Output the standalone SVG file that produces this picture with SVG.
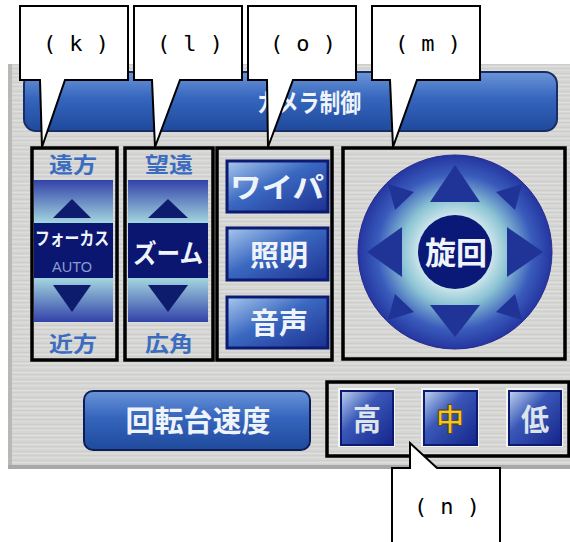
<svg xmlns="http://www.w3.org/2000/svg" width="570" height="542" viewBox="0 0 570 542">
<defs>
<pattern id="metal" width="570" height="9" patternUnits="userSpaceOnUse">
<rect width="570" height="9" fill="#d6d6d4"/>
<rect y="1" width="570" height="1" fill="#cdcdcb"/>
<rect y="3" width="570" height="1" fill="#dfdfdd"/>
<rect y="5" width="570" height="1" fill="#cfcfcd"/>
<rect y="7" width="570" height="1" fill="#dcdcda"/>
</pattern>
<linearGradient id="title" x1="0" y1="0" x2="0" y2="1">
<stop offset="0" stop-color="#6b95d8"/>
<stop offset="0.45" stop-color="#3565bd"/>
<stop offset="1" stop-color="#1f4a9c"/>
</linearGradient>
<linearGradient id="btn" x1="0" y1="0" x2="1" y2="1">
<stop offset="0" stop-color="#a8c8ee"/>
<stop offset="0.45" stop-color="#3a68c0"/>
<stop offset="1" stop-color="#1c3090"/>
</linearGradient>
<linearGradient id="sq" x1="0" y1="0" x2="1" y2="1">
<stop offset="0" stop-color="#c0d4f0"/>
<stop offset="0.4" stop-color="#3a58b8"/>
<stop offset="1" stop-color="#14248a"/>
</linearGradient>
<linearGradient id="upper" x1="0" y1="0" x2="0" y2="1">
<stop offset="0" stop-color="#3242a8"/>
<stop offset="1" stop-color="#a4d6e0"/>
</linearGradient>
<linearGradient id="lower" x1="0" y1="0" x2="0" y2="1">
<stop offset="0" stop-color="#a4d6e0"/>
<stop offset="1" stop-color="#3242a8"/>
</linearGradient>
<radialGradient id="sphere" cx="0.5" cy="0.5" r="0.5">
<stop offset="0.3" stop-color="#e8f4f4"/>
<stop offset="0.55" stop-color="#8cc4d4"/>
<stop offset="0.8" stop-color="#3a5cbc"/>
<stop offset="1" stop-color="#2436a0"/>
</radialGradient>
<style>
.frame{fill:none;stroke:#000;stroke-width:3.5}
.callout{fill:#fff;stroke:#000;stroke-width:2}
.ctext{font-family:"DejaVu Sans Mono",monospace;font-size:22px;fill:#000;text-anchor:middle}
.jp{font-family:"Noto Sans CJK JP",sans-serif;font-weight:bold;text-anchor:middle}
.lbl{font-size:21px;fill:#3b6cc0}
.wt{fill:#eef4fa}
.tri{fill:#0e1c6e}
.stri{fill:#1f3496}
.btnr{fill:url(#btn);stroke:#0c1a70;stroke-width:3}
</style>
</defs>

<g id="panel">
<rect x="8" y="64" width="562" height="404" fill="url(#metal)"/>
<rect x="8" y="64" width="4" height="404" fill="#b8b8b6"/>
<rect x="8" y="465" width="562" height="4" fill="#a8a8a6"/>
</g>

<g id="title-bar">
<rect x="24" y="72" width="533" height="59" rx="12" fill="url(#title)" stroke="#1a2c64" stroke-width="2"/>
<text x="309" y="112" class="jp wt" font-size="25" textLength="104" lengthAdjust="spacingAndGlyphs">カメラ制御</text>
</g>

<g id="focus">
<rect x="32" y="148" width="85" height="212" class="frame"/>
<text x="73" y="172" class="jp lbl" textLength="48" lengthAdjust="spacingAndGlyphs">遠方</text>
<rect x="34" y="180" width="79" height="43" fill="url(#upper)"/>
<rect x="34" y="223" width="79" height="55" fill="#0a1670"/>
<rect x="34" y="278" width="79" height="44" fill="url(#lower)"/>
<polygon points="72,199 53,218 91,218" class="tri"/>
<polygon points="53,285 91,285 72,312" class="tri"/>
<text x="72" y="245" class="jp wt" font-size="18" textLength="74" lengthAdjust="spacingAndGlyphs">フォーカス</text>
<text x="72" y="272" font-family="Liberation Sans,sans-serif" font-size="15" fill="#8c9cd0" text-anchor="middle" textLength="40" lengthAdjust="spacingAndGlyphs">AUTO</text>
<text x="73" y="351" class="jp lbl" textLength="48" lengthAdjust="spacingAndGlyphs">近方</text>
</g>

<g id="zoom">
<rect x="125" y="148" width="88" height="212" class="frame"/>
<text x="169" y="172" class="jp lbl" textLength="48" lengthAdjust="spacingAndGlyphs">望遠</text>
<rect x="128" y="180" width="80" height="43" fill="url(#upper)"/>
<rect x="128" y="223" width="80" height="55" fill="#0a1670"/>
<rect x="128" y="278" width="80" height="44" fill="url(#lower)"/>
<polygon points="168,199 148,218 188,218" class="tri"/>
<polygon points="148,285 188,285 168,312" class="tri"/>
<text x="168" y="263" class="jp wt" font-size="26" textLength="70" lengthAdjust="spacingAndGlyphs">ズーム</text>
<text x="169" y="351" class="jp lbl" textLength="48" lengthAdjust="spacingAndGlyphs">広角</text>
</g>

<g id="options">
<rect x="217" y="148" width="115" height="212" class="frame"/>
<g id="wiper">
<rect x="227" y="161" width="101" height="51" class="btnr"/>
<text x="277" y="198" class="jp wt" font-size="28" textLength="94" lengthAdjust="spacingAndGlyphs">ワイパ</text>
</g>
<g id="light">
<rect x="227" y="228" width="101" height="52" class="btnr"/>
<text x="279" y="266" class="jp wt" font-size="29">照明</text>
</g>
<g id="sound">
<rect x="227" y="297" width="101" height="51" class="btnr"/>
<text x="279" y="334" class="jp wt" font-size="29">音声</text>
</g>
</g>

<g id="pan">
<rect x="343" y="148" width="222" height="211" class="frame"/>
<circle cx="455" cy="252" r="97" fill="url(#sphere)" stroke="#2a2a8c" stroke-width="1"/>
<polygon points="455,165 430,202 480,202" class="stri"/>
<polygon points="430,305 480,305 455,337" class="stri"/>
<polygon points="367,252 402,227 402,277" class="stri"/>
<polygon points="543,252 507,227 507,277" class="stri"/>
<polygon points="388,184 414,192 395,210" class="stri"/>
<polygon points="522,184 496,192 515,210" class="stri"/>
<polygon points="388,320 414,312 395,294" class="stri"/>
<polygon points="522,320 496,312 515,294" class="stri"/>
<circle cx="455" cy="252" r="37" fill="#0a1878"/>
<text x="456" y="264" class="jp wt" font-size="31">旋回</text>
</g>

<g id="turntable-speed">
<rect x="84" y="391" width="226" height="59" rx="9" fill="url(#title)" stroke="#0e1e54" stroke-width="2"/>
<text x="198" y="432" class="jp wt" font-size="29">回転台速度</text>
</g>

<g id="speed">
<rect x="327" y="382" width="242" height="74" class="frame"/>
<g id="speed-high">
<rect x="338" y="388" width="57" height="59" fill="#f4f4f4"/>
<rect x="341" y="391" width="52" height="54" fill="url(#sq)" stroke="#0c1a70" stroke-width="2"/>
<text x="367" y="430" class="jp" font-size="30" fill="#dde4ec" textLength="28" lengthAdjust="spacingAndGlyphs">高</text>
</g>
<g id="speed-mid">
<rect x="421" y="388" width="58" height="59" fill="#f4f4f4"/>
<rect x="424" y="391" width="53" height="54" fill="url(#sq)" stroke="#0c1a70" stroke-width="2"/>
<text x="450" y="430" class="jp" font-size="30" fill="#f0c828" stroke="#5a3a00" stroke-width="0.8" textLength="28" lengthAdjust="spacingAndGlyphs">中</text>
</g>
<g id="speed-low">
<rect x="506" y="388" width="57" height="59" fill="#f4f4f4"/>
<rect x="509" y="391" width="52" height="54" fill="url(#sq)" stroke="#0c1a70" stroke-width="2"/>
<text x="535" y="430" class="jp" font-size="30" fill="#dde4ec" textLength="28" lengthAdjust="spacingAndGlyphs">低</text>
</g>
</g>

<g id="connectors">
<g id="callout-k">
<path d="M20,6 H128 V80 H65 L42,147 L40,80 H20 Z" class="callout"/>
<text x="76" y="51" class="ctext">( k )</text>
</g>
<g id="callout-l">
<path d="M134,6 H242 V80 H180 L155,147 L152,80 H134 Z" class="callout"/>
<text x="190" y="51" class="ctext">( l )</text>
</g>
<g id="callout-o">
<path d="M248,6 H356 V80 H293 L268,147 L267,80 H248 Z" class="callout"/>
<text x="303" y="51" class="ctext">( o )</text>
</g>
<g id="callout-m">
<path d="M372,6 H480 V80 H417 L393,147 L390,80 H372 Z" class="callout"/>
<text x="428" y="51" class="ctext">( m )</text>
</g>
<g id="callout-n">
<path d="M392,546 V468 H410 V443 L437,468 H500 V546 Z" class="callout"/>
<text x="447" y="514" class="ctext">( n )</text>
</g>
</g>
</svg>
